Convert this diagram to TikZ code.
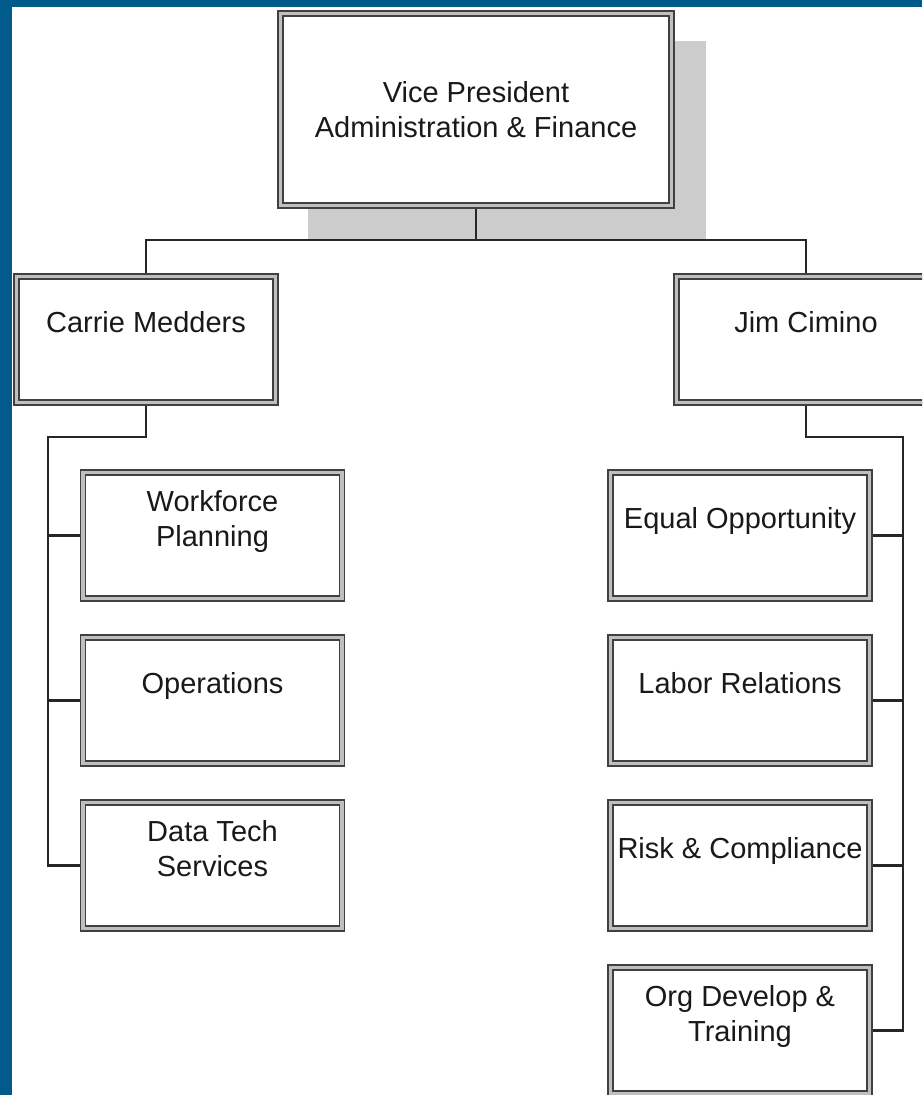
\documentclass[tikz,border=0pt]{standalone}
\usepackage{fontspec}
\setmainfont{Liberation Sans}
\usetikzlibrary{calc,backgrounds}
\definecolor{frameblue}{RGB}{0,90,140}
\definecolor{shadowgray}{RGB}{204,204,204}

\begin{document}
\begin{tikzpicture}[x=1pt, y=-1pt,
box/.style = {draw=black!75, double=black!25, double distance=3.6pt, line width=1.6pt,
	fill=white, align=center, inner sep=0pt, outer sep=3.4pt,
	font=\fontsize{29}{35}\selectfont, text=black!90},
unit/.style = {box, minimum width=259pt, minimum height=126pt},
link/.style = {draw=black!85, line width=2.4pt}
]

\useasboundingbox (0,0) rectangle (922,1095);
\begin{scope}[on background layer]
	\fill[white] (0,0) rectangle (922,1095);
	\fill[frameblue] (0,0) rectangle (12,1095);
	\fill[frameblue] (0,0) rectangle (922,7);
\end{scope}
\clip (0,0) rectangle (922,1095);

% jefes
\node[box, minimum width=391pt, minimum height=192pt] (vp) at (476,109.5)
	{Vice President\\Administration \& Finance};
\node[unit] (carrie) at (146,339.5) {Carrie Medders\\~};
\node[unit] (jim) at (806,339.5) {Jim Cimino\\~};

% sombra del VP
\begin{scope}[on background layer]
	\fill[shadowgray] ($(vp.north west)+(31,31)$) rectangle ($(vp.south east)+(31,31)$);
\end{scope}

% areas, 165pt entre cajas
\foreach \name/\txt [count=\i] in {work/{Workforce\\Planning\\~}, ops/{Operations\\~},
	data/{Data Tech\\Services\\~}}
	\node[unit] (\name) at (212.5, 370.5+165*\i) {\txt};
\foreach \name/\txt [count=\i] in {eo/{Equal Opportunity\\~}, labor/{Labor Relations\\~},
	risk/{Risk \& Compliance\\~}, org/{Org Develop \&\\Training\\~}}
	\node[unit] (\name) at (740, 370.5+165*\i) {\txt};

\draw[link] (vp.south) -- ++(0,31) -| (carrie.north);
\draw[link] (vp.south) -- ++(0,31) -| (jim.north);

\coordinate (ltrunk) at (48,437);
\coordinate (rtrunk) at (903,437);
\draw[link] (carrie.south) |- (ltrunk) |- (data.west);
\foreach \name in {work, ops}
	\draw[link] (ltrunk |- \name.west) -- (\name.west);
\draw[link] (jim.south) |- (rtrunk) |- (org.east);
\foreach \name in {eo, labor, risk}
	\draw[link] (rtrunk |- \name.east) -- (\name.east);
\end{tikzpicture}
\end{document}
